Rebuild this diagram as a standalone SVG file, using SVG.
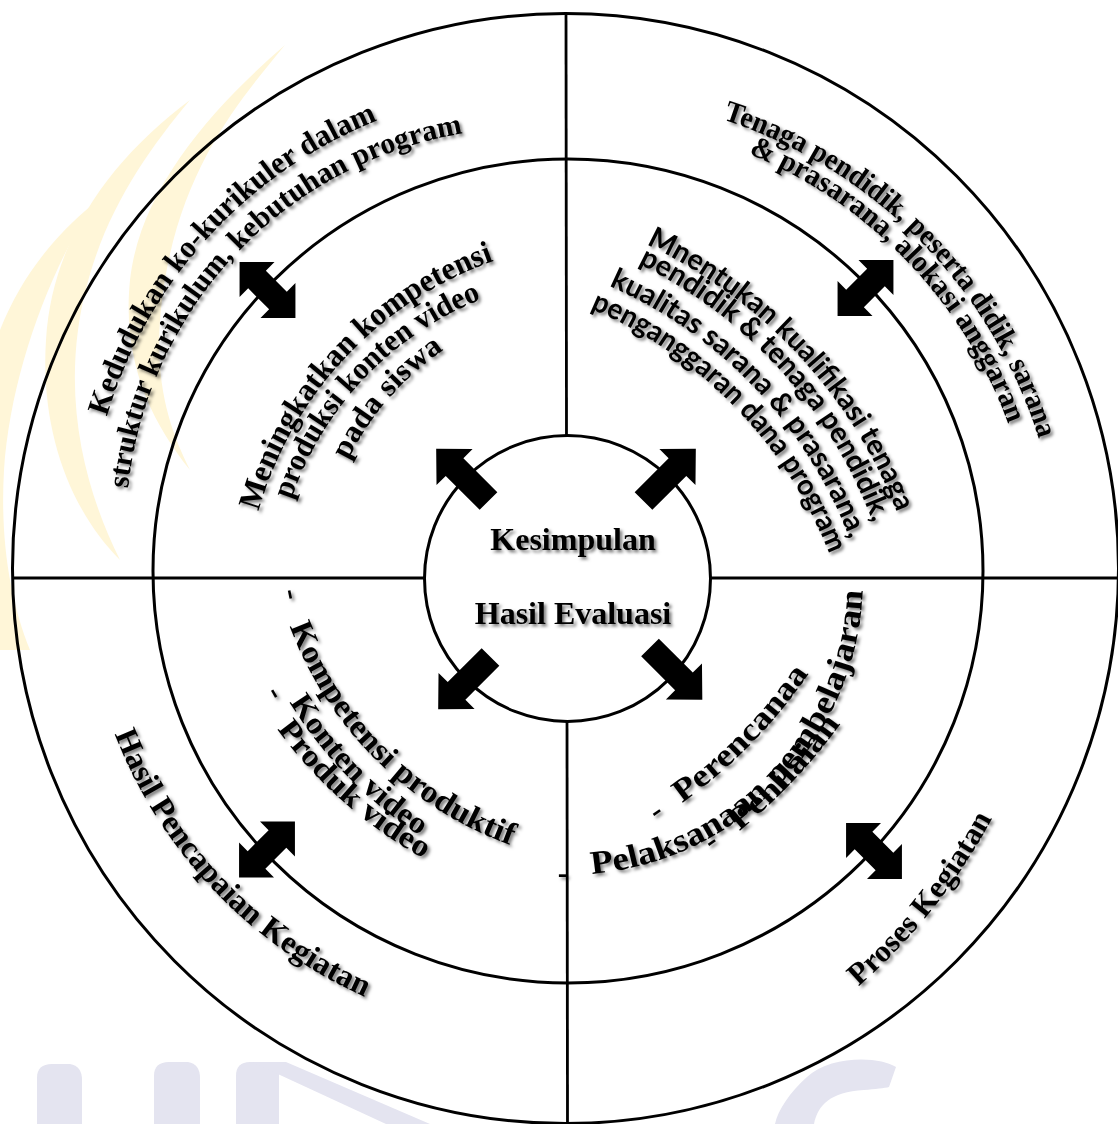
<svg xmlns="http://www.w3.org/2000/svg" width="1118" height="1124" viewBox="0 0 1118 1124">
<style>
.ring{fill:none;stroke:#000;stroke-width:3}
.ln{stroke:#000;stroke-width:2.8;fill:none}
.t{font-family:"Liberation Serif","Times New Roman",serif;font-weight:bold;fill:#000}
.s{font-family:Lato,"Open Sans",sans-serif;font-weight:bold;fill:#000}
.sh{filter:url(#sh)}
.wy{fill:#FFF6D8}
.wl{fill:#E4E4F0}
</style>
<defs>
<filter id="sh" x="-20%" y="-20%" width="140%" height="140%">
<feDropShadow dx="2.5" dy="2.5" stdDeviation="1.8" flood-color="#000" flood-opacity="0.5"/>
</filter>
<path id="a1" d="M0,-12.5 L48,-12.5 L48,-25.5 L74,0 L48,25.5 L48,12.5 L0,12.5 Z"/>
<path id="a2" d="M-39.5,0 L-14.8,-24.7 L-14.8,-12.5 L14.8,-12.5 L14.8,-24.7 L39.5,0 L14.8,24.7 L14.8,12.5 L-14.8,12.5 L-14.8,24.7 Z"/>
<path id="p11" d="M106.8,416.5 A460.4,460.4 0 0 1 379.9,119.5"/>
<path id="p12" d="M128.0,488.5 A403.5,403.5 0 0 1 465.6,132.9"/>
<path id="p21" d="M258.5,511.3 A374.2,374.2 0 0 1 495.9,260.1"/>
<path id="p22" d="M291.1,499.8 A328.9,328.9 0 0 1 483.0,298.6"/>
<path id="p23" d="M347.8,460.3 A284.6,284.6 0 0 1 444.6,349.3"/>
<path id="p31" d="M722.7,119.4 A488.5,488.5 0 0 1 1039.3,440.7"/>
<path id="p32" d="M748.4,153.6 A463.3,463.3 0 0 1 1009.0,425.9"/>
<path id="p41" d="M646.1,244.5 A492,492 0 0 1 897.6,514.0"/>
<path id="p42" d="M638.2,263.7 A469.6,469.6 0 0 1 873.7,525.1"/>
<path id="p43" d="M608.9,285.8 A450.6,450.6 0 0 1 850.7,541.8"/>
<path id="p44" d="M590.3,308.5 A441.5,441.5 0 0 1 830.3,556.4"/>
<path id="p5" d="M114.6,734.0 A476.4,476.4 0 0 0 366.5,997.6"/>
<path id="p6" d="M858.6,986.4 A600,600 0 0 0 993.1,816.5"/>
<path id="p71" d="M289.8,626.2 A370.1,370.1 0 0 0 512.6,845.8"/>
<path id="p72" d="M289.4,702.2 A433.8,433.8 0 0 0 420.7,836.4"/>
<path id="p73" d="M277.1,729.0 A455.1,455.1 0 0 0 424.9,859.3"/>
<path id="p81" d="M682.0,803.1 A525.2,525.2 0 0 0 809.5,672.6"/>
<path id="p82" d="M591.9,873.9 A297,297 0 0 0 862.9,585.8"/>
<path id="p83" d="M739.2,831.1 A571.9,571.9 0 0 0 841.5,722.4"/>
</defs>
<rect width="1118" height="1124" fill="#fff"/>
<g id="watermark">
<path class="wy" d="M285,45 C240,100 178,170 162,300 C152,380 170,430 190,470 C150,420 122,360 130,280 C140,190 210,110 285,45 Z"/>
<path class="wy" d="M190,100 C140,160 92,230 78,330 C66,420 90,500 120,560 C70,510 40,430 46,340 C52,240 110,160 190,100 Z"/>
<path class="wy" d="M92,205 C45,280 10,380 4,470 C0,540 10,600 30,650 L0,650 L0,330 C20,280 50,240 92,205 Z"/>
<path class="wl" d="M37,1124 L37,1078 Q37,1064 52,1064 L70,1064 Q82,1066 82,1080 L82,1124 Z"/>
<path class="wl" d="M154,1124 L154,1076 Q154,1062 169,1062 L188,1062 Q200,1064 200,1078 L200,1124 Z"/>
<path class="wl" d="M236,1124 L236,1076 Q236,1062 250,1062 L279,1062 L279,1124 Z"/>
<path class="wl" d="M252,1062 L286,1062 L430,1124 L386,1124 Z"/>
<path class="wl" d="M896,1067 C880,1056 830,1055 807,1077 C790,1092 778,1110 775,1124 L814,1124 C818,1105 830,1092 864,1090 C875,1089 885,1088 889,1087 Z"/>
</g>
<g id="rings">
<ellipse class="ring" cx="565.5" cy="568.5" rx="553" ry="555"/>
<ellipse class="ring" cx="568" cy="571" rx="415" ry="412"/>
<circle class="ring" cx="567.5" cy="578.5" r="143"/>
<line class="ln" x1="566" y1="14" x2="566.5" y2="435.5"/>
<line class="ln" x1="567" y1="721.5" x2="567.5" y2="1124"/>
<line class="ln" x1="12" y1="578" x2="424.5" y2="578"/>
<line class="ln" x1="710.5" y1="578" x2="1118" y2="578"/>
</g>
<g id="connectors">
<use href="#a1" transform="translate(488.5,501) rotate(-135)"/>
<use href="#a1" transform="translate(643.5,501) rotate(-45)"/>
<use href="#a1" transform="translate(490.5,657) rotate(135)"/>
<use href="#a1" transform="translate(650,647.5) rotate(45)"/>
<use href="#a2" transform="translate(267.5,290) rotate(45)"/>
<use href="#a2" transform="translate(865.5,288) rotate(-45)"/>
<use href="#a2" transform="translate(874,851) rotate(45)"/>
<use href="#a2" transform="translate(267,849.5) rotate(-45)"/>
</g>
<g id="center" class="sh">
<text class="t" x="573" y="550" font-size="32" text-anchor="middle">Kesimpulan</text>
<text class="t" x="573" y="624" font-size="32" text-anchor="middle">Hasil Evaluasi</text>
</g>
<g id="kedudukan" class="sh">
<text class="t" font-size="31"><textPath href="#p11" textLength="415" lengthAdjust="spacingAndGlyphs">Kedudukan ko-kurikuler dalam</textPath></text>
<text class="t" font-size="30"><textPath href="#p12" textLength="524" lengthAdjust="spacingAndGlyphs">struktur kurikulum, kebutuhan program</textPath></text>
</g>
<g id="meningkatkan" class="sh">
<text class="t" font-size="32"><textPath href="#p21" textLength="357" lengthAdjust="spacingAndGlyphs">Meningkatkan kompetensi</textPath></text>
<text class="t" font-size="31"><textPath href="#p22" textLength="285" lengthAdjust="spacingAndGlyphs">produksi konten video</textPath></text>
<text class="t" font-size="31"><textPath href="#p23" textLength="148" lengthAdjust="spacingAndGlyphs">pada siswa</textPath></text>
</g>
<g id="tenaga" class="sh">
<text class="t" font-size="30"><textPath href="#p31" textLength="467" lengthAdjust="spacingAndGlyphs">Tenaga pendidik, peserta didik, sarana</textPath></text>
<text class="t" font-size="30"><textPath href="#p32" textLength="386" lengthAdjust="spacingAndGlyphs">&amp; prasarana, alokasi anggaran</textPath></text>
</g>
<g id="mnentukan" class="sh">
<text class="s" font-size="29"><textPath href="#p41" textLength="376" lengthAdjust="spacingAndGlyphs">Mnentukan kualifikasi tenaga</textPath></text>
<text class="s" font-size="29"><textPath href="#p42" textLength="358" lengthAdjust="spacingAndGlyphs">pendidik &amp; tenaga pendidik,</textPath></text>
<text class="s" font-size="29"><textPath href="#p43" textLength="359" lengthAdjust="spacingAndGlyphs">kualitas sarana &amp; prasarana,</textPath></text>
<text class="s" font-size="29"><textPath href="#p44" textLength="352" lengthAdjust="spacingAndGlyphs">penganggaran dana program</textPath></text>
</g>
<g id="hasil-pencapaian" class="sh">
<text class="t" font-size="32"><textPath href="#p5" textLength="372" lengthAdjust="spacingAndGlyphs">Hasil Pencapaian Kegiatan</textPath></text>
</g>
<g id="proses" class="sh">
<text class="t" font-size="31"><textPath href="#p6" textLength="216" lengthAdjust="spacingAndGlyphs">Proses Kegiatan</textPath></text>
</g>
<g id="kompetensi" class="sh">
<text class="t" font-size="31" x="293" y="594" text-anchor="middle" dominant-baseline="central" transform="rotate(78 293 594)">-</text>
<text class="t" font-size="32"><textPath href="#p71" textLength="321" lengthAdjust="spacingAndGlyphs">Kompetensi produktif</textPath></text>
<text class="t" font-size="31"><textPath href="#p72" textLength="188" lengthAdjust="spacingAndGlyphs">Konten video</textPath></text>
<text class="t" font-size="31" x="277" y="692" text-anchor="middle" dominant-baseline="central" transform="rotate(60 277 692)">-</text>
<text class="t" font-size="31"><textPath href="#p73" textLength="197" lengthAdjust="spacingAndGlyphs">Produk video</textPath></text>
</g>
<g id="perencanaan" class="sh">
<text class="t" font-size="31" x="655" y="810" text-anchor="middle" dominant-baseline="central" transform="rotate(-35 655 810)">-</text>
<text class="t" font-size="32"><textPath href="#p81" textLength="182" lengthAdjust="spacingAndGlyphs">Perencanaa</textPath></text>
<text class="t" font-size="31" x="563" y="872" text-anchor="middle" dominant-baseline="central" transform="rotate(0 563 872)">-</text>
<text class="t" font-size="33"><textPath href="#p82" textLength="428" lengthAdjust="spacingAndGlyphs">Pelaksanaan pembelajaran</textPath></text>
<text class="t" font-size="31" x="710" y="840" text-anchor="middle" dominant-baseline="central" transform="rotate(-35 710 840)">-</text>
<text class="t" font-size="32"><textPath href="#p83" textLength="148" lengthAdjust="spacingAndGlyphs">Penilaian</textPath></text>
</g>
</svg>
